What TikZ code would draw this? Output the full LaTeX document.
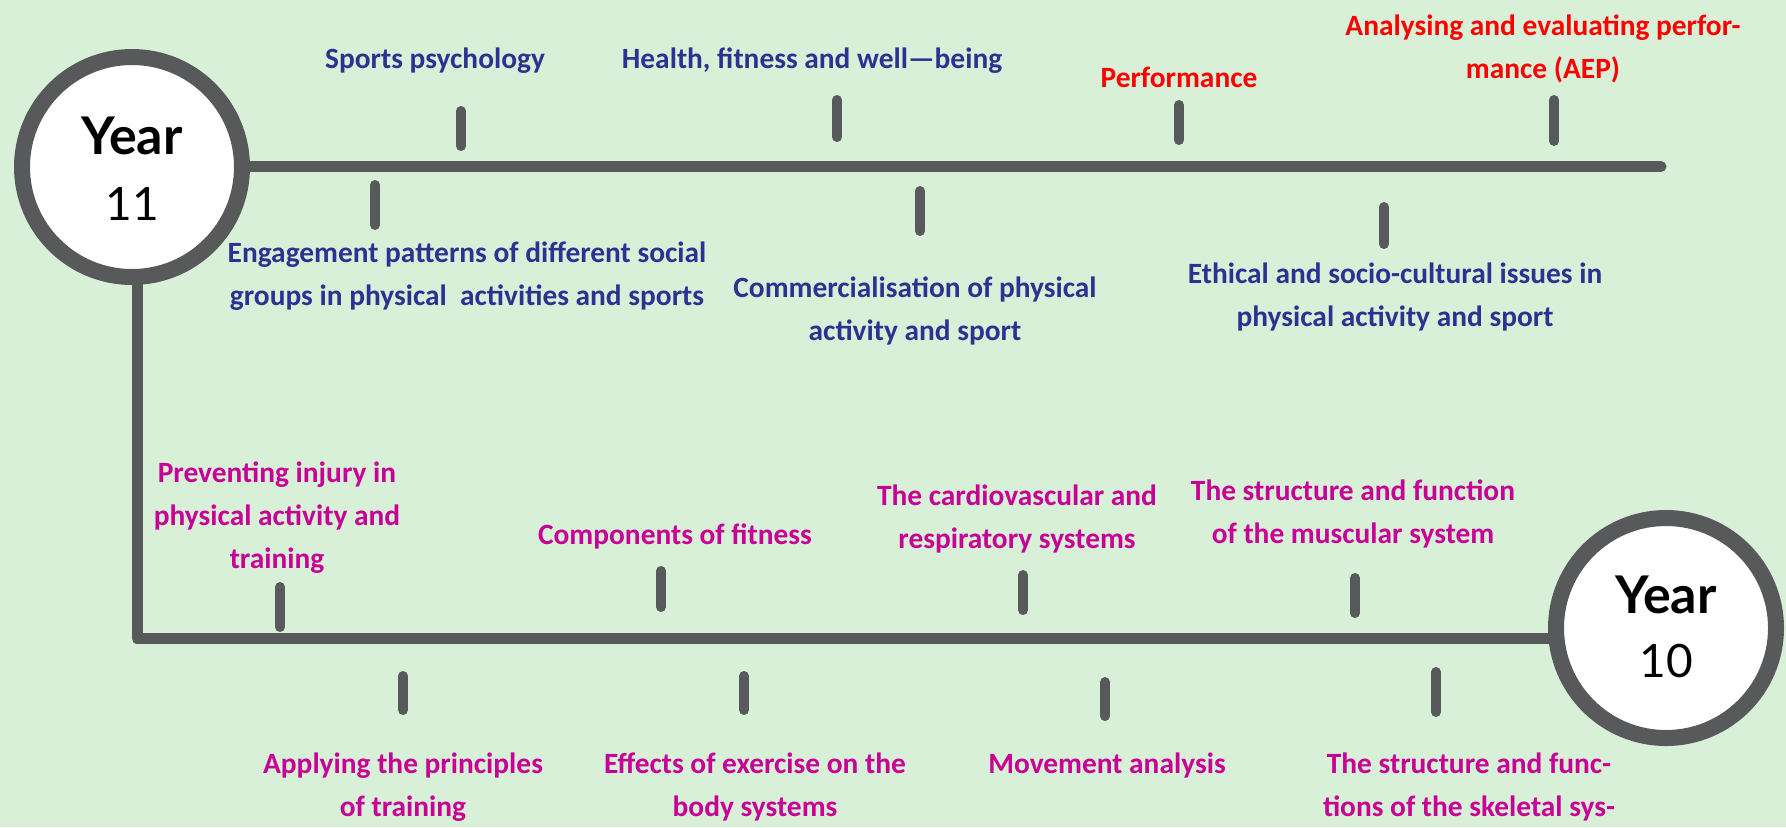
\documentclass[tikz,border=0pt]{standalone}
\usepackage{fontspec}
\setmainfont{Carlito}
\newfontfamily\yearfont{Lato}

\definecolor{bgmint}{RGB}{216,240,216}
\definecolor{axisgray}{RGB}{88,89,91}
\definecolor{topicblue}{RGB}{46,49,146}
\definecolor{topicpink}{RGB}{200,0,150}
\definecolor{topicred}{RGB}{255,0,0}

\pgfdeclarelayer{canvas}
\pgfdeclarelayer{axes}
\pgfsetlayers{canvas,axes,main}

\begin{document}
\begin{tikzpicture}[x=0.5pt,y=-0.5pt,
  axis/.style={draw=axisgray,line width=5.5pt,line cap=round,line join=round},
  tickmark/.style={draw=axisgray,line width=5pt,line cap=round},
  yearring/.style={circle,draw=axisgray,fill=white,line width=8pt,minimum size=110pt,inner sep=0pt},
  yearword/.style={font=\yearfont\bfseries\fontsize{26}{26}\selectfont,inner sep=0pt,anchor=base},
  yearnum/.style={font=\yearfont\fontsize{23}{23}\selectfont,inner sep=0pt,anchor=base},
  topic/.style={font=\bfseries\fontsize{14.7}{21.5}\selectfont,align=center,inner sep=0pt},
  elevenblue/.style={topic,text=topicblue},
  elevenred/.style={topic,text=topicred},
  tenpink/.style={topic,text=topicpink}]

% canvas
\begin{pgfonlayer}{canvas}
  \fill[bgmint] (0,0) rectangle (1786,827);
\end{pgfonlayer}
\useasboundingbox (0,0) rectangle (1786,827);

% year circles
\node[yearring] (y11) at (132,167) {};
\node[yearword] (y11w) at (132,154) {Year};
\node[yearnum]  (y11n) at (132,220) {11};
\node[yearring] (y10) at (1666,628) {};
\node[yearword] (y10w) at (1666,613) {Year};
\node[yearnum]  (y10n) at (1666,677) {10};

% timeline axes
\coordinate (topend) at (1661,166.5);
\coordinate (corner) at (137,638.5);
\begin{pgfonlayer}{axes}
  \draw[axis] (y11.center |- topend) -- (topend);
  \draw[axis] (corner |- y11.center) -- (corner) -- (corner -| y10.center);

  % Year 11 tick marks
  \draw[tickmark] (461,111) -- (461,146);
  \draw[tickmark] (837,100) -- (837,137);
  \draw[tickmark] (1179,105) -- (1179,140);
  \draw[tickmark] (1554,100) -- (1554,141);
  \draw[tickmark] (375,185) -- (375,225);
  \draw[tickmark] (920,191) -- (920,231);
  \draw[tickmark] (1384,207) -- (1384,244);

  % Year 10 tick marks
  \draw[tickmark] (280,587) -- (280,627);
  \draw[tickmark] (661,571) -- (661,607);
  \draw[tickmark] (1023,575) -- (1023,610);
  \draw[tickmark] (1355,578) -- (1355,613);
  \draw[tickmark] (403,676) -- (403,710);
  \draw[tickmark] (744,676) -- (744,710);
  \draw[tickmark] (1105,682) -- (1105,716);
  \draw[tickmark] (1436,672) -- (1436,712);
\end{pgfonlayer}

% Year 11 topics
\node[elevenblue] (psych) at (435,61) {Sports psychology};
\node[elevenblue] (health) at (812,61) {Health, fitness and well—being};
\node[elevenred] (perf) at (1179,77) {Performance};
\node[elevenred] (aep) at (1543,49) {Analysing and evaluating perfor-\\mance (AEP)};
\node[elevenblue] (engage) at (467,276) {Engagement patterns of different social\\groups in physical\ \ activities and sports};
\node[elevenblue] (commerce) at (915,311) {Commercialisation of physical\\activity and sport};
\node[elevenblue] (ethics) at (1395,297) {Ethical and socio-cultural issues in\\physical activity and sport};

% Year 10 topics
\node[tenpink] (injury) at (277,518) {Preventing injury in\\physical activity and\\training};
\node[tenpink] (fitness) at (675,536) {Components of fitness};
\node[tenpink] (cardio) at (1017,519) {The cardiovascular and\\respiratory systems};
\node[tenpink] (muscle) at (1353,514) {The structure and function\\of the muscular system};
\node[tenpink] (training) at (403,787) {Applying the principles\\of training};
\node[tenpink] (effects) at (755,787) {Effects of exercise on the\\body systems};
\node[tenpink] (movement) at (1107,765) {Movement analysis};
\node[tenpink] (skeleton) at (1469,787) {The structure and func-\\tions of the skeletal sys-};
\end{tikzpicture}
\end{document}
